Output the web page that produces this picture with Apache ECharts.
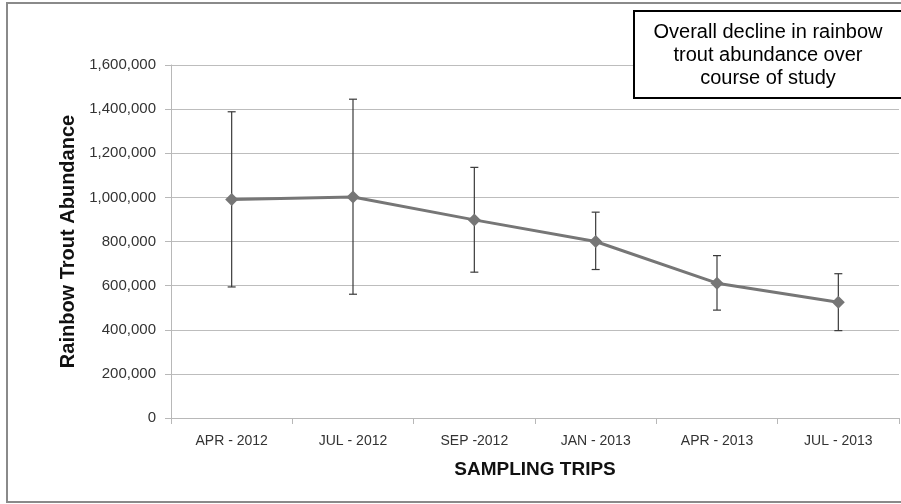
<!DOCTYPE html>
<html>
<head>
<meta charset="utf-8">
<script src="https://cdn.jsdelivr.net/npm/echarts@6/dist/echarts.min.js"></script>
<style>
html,body{margin:0;padding:0;background:#fff;}
#chart{width:901px;height:504px;}
</style>
</head>
<body>
<div id="chart"></div>
<script>
var categories = ['APR - 2012', 'JUL - 2012', 'SEP -2012', 'JAN - 2013', 'APR - 2013', 'JUL - 2013'];
var abundance = [990000, 1002000, 898000, 800000, 611000, 525000];
var errorLow = [594000, 561000, 661000, 673000, 489000, 396000];
var errorHigh = [1388000, 1445000, 1136000, 933000, 736000, 654000];
var annotationLines = ['Overall decline in rainbow', 'trout abundance over', 'course of study'];

var errorData = categories.map(function (c, i) { return [i, errorLow[i], errorHigh[i]]; });

var chart = echarts.init(document.getElementById('chart'));
chart.setOption({
  animation: false,
  backgroundColor: '#fff',
  grid: { left: 171, right: 2, top: 65, bottom: 86 },
  xAxis: {
    type: 'category',
    data: categories,
    boundaryGap: true,
    name: 'SAMPLING TRIPS',
    nameLocation: 'middle',
    nameGap: 42,
    nameTextStyle: { fontFamily: 'Liberation Sans', fontWeight: 'bold', fontSize: 19, color: '#111' },
    axisLine: { lineStyle: { color: '#b8b8b8', width: 1 } },
    axisTick: { show: true, length: 6, lineStyle: { color: '#b8b8b8' }, alignWithLabel: false },
    axisLabel: { fontFamily: 'Liberation Sans', fontSize: 14, color: '#333', margin: 16 },
    splitLine: { show: false }
  },
  yAxis: {
    type: 'value',
    min: 0,
    max: 1600000,
    interval: 200000,
    name: 'Rainbow Trout Abundance',
    nameLocation: 'middle',
    nameGap: 88,
    nameRotate: 90,
    nameTextStyle: { fontFamily: 'Liberation Sans', fontWeight: 'bold', fontSize: 20, color: '#111' },
    axisLine: { show: true, lineStyle: { color: '#b8b8b8', width: 1 } },
    axisTick: { show: true, length: 6, lineStyle: { color: '#b8b8b8' } },
    axisLabel: {
      fontFamily: 'Liberation Sans', fontSize: 15, color: '#333', margin: 15,
      formatter: function (v) { return v.toLocaleString('en-US'); }
    },
    splitLine: { lineStyle: { color: '#bdbdbd', width: 1 } }
  },
  graphic: [
    {
      type: 'rect', z: -1, silent: true,
      shape: { x: 7, y: 3, width: 905, height: 499 },
      style: { fill: 'none', stroke: '#8a8a8a', lineWidth: 2 }
    },
    {
      type: 'rect', z: 100, silent: true,
      shape: { x: 634, y: 11, width: 280, height: 87 },
      style: { fill: '#fff', stroke: '#000', lineWidth: 2 }
    },
    {
      type: 'text', z: 101, silent: true,
      x: 768, y: 55,
      style: {
        text: annotationLines.join('\n'),
        fontFamily: 'Liberation Sans', fontSize: 20, lineHeight: 23,
        fill: '#000', align: 'center', verticalAlign: 'middle'
      }
    }
  ],
  series: [
    {
      type: 'custom',
      z: 1,
      data: errorData,
      renderItem: function (params, api) {
        var x = api.value(0);
        var lo = api.coord([x, api.value(1)]);
        var hi = api.coord([x, api.value(2)]);
        var hw = 4;
        var st = { stroke: '#3a3a3a', lineWidth: 1.2 };
        return {
          type: 'group',
          children: [
            { type: 'line', shape: { x1: hi[0], y1: hi[1], x2: lo[0], y2: lo[1] }, style: st },
            { type: 'line', shape: { x1: hi[0] - hw, y1: hi[1], x2: hi[0] + hw, y2: hi[1] }, style: st },
            { type: 'line', shape: { x1: lo[0] - hw, y1: lo[1], x2: lo[0] + hw, y2: lo[1] }, style: st }
          ]
        };
      }
    },
    {
      type: 'line',
      z: 3,
      data: abundance,
      symbol: 'diamond',
      symbolSize: 13,
      itemStyle: { color: '#767676' },
      lineStyle: { color: '#767676', width: 3 }
    }
  ]
});
</script>
</body>
</html>
